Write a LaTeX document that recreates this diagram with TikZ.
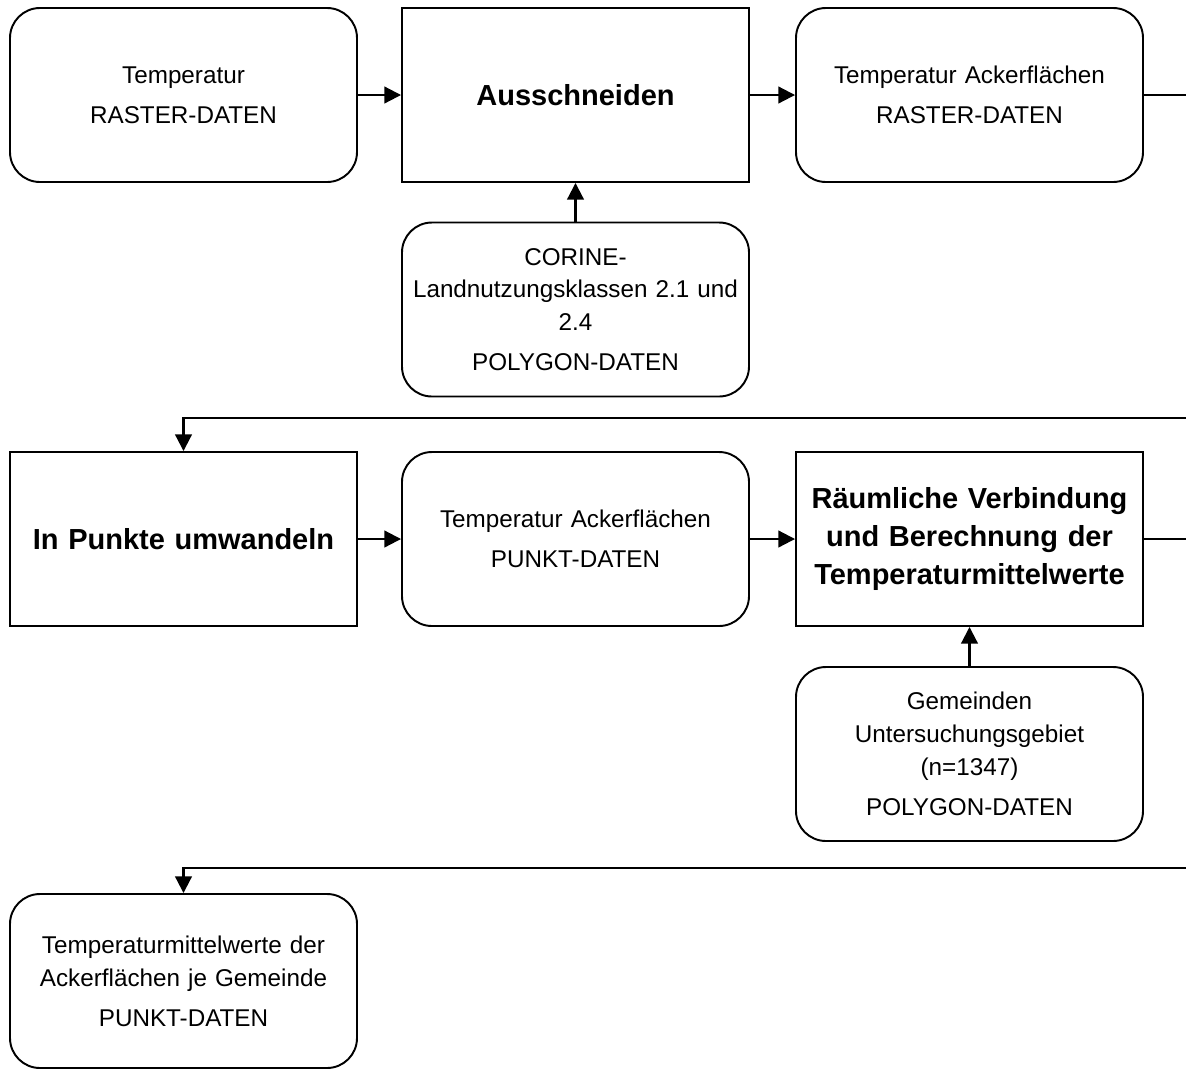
\documentclass[tikz,border=0pt]{standalone}
\usepackage{fontspec}
\setmainfont{Liberation Sans}
\usetikzlibrary{arrows.meta}
\begin{document}
\begin{tikzpicture}[
    box/.style={draw, line width=1.1pt, minimum width=6.94cm, minimum height=3.48cm,
      text width=6.6cm, align=center, inner sep=0pt,
      font=\fontsize{13.8}{18.7}\selectfont},
    data/.style={box, rounded corners=0.6cm},
    tool/.style={box, font=\fontsize{16.5}{21.6}\selectfont\bfseries},
    flow/.style={line width=1.2pt, -{Triangle[length=9.5pt,width=9.5pt]}}
  ]
      \useasboundingbox (0,0) rectangle (23.72,-21.38);
      \clip (0,0) rectangle (23.72,-21.38);
      \draw
        (3.67,-1.90) node[data] (temp){Temperatur\\[4pt]RASTER-DATEN}
        (11.51,-1.90) node[tool] (cut){Ausschneiden}
        (19.39,-1.90) node[data] (tempacker){Temperatur Ackerflächen\\[4pt]RASTER-DATEN}
        (11.51,-6.19) node[data] (corine){CORINE-\\Landnutzungsklassen 2.1 und\\2.4\\[4pt]POLYGON-DATEN}
        (3.67,-10.78) node[tool] (points){In Punkte umwandeln}
        (11.51,-10.78) node[data] (temppunkt){Temperatur Ackerflächen\\[4pt]PUNKT-DATEN}
        (19.39,-10.78) node[tool] (join){Räumliche Verbindung und Berechnung der Temperaturmittelwerte}
        (19.39,-15.08) node[data] (gemeinden){Gemeinden\\Untersuchungsgebiet\\(n=1347)\\[4pt]POLYGON-DATEN}
        (3.67,-19.62) node[data] (result){Temperaturmittelwerte der\\Ackerflächen je Gemeinde\\[4pt]PUNKT-DATEN};
      \coordinate (turn1) at (24.2,-8.36);
      \coordinate (turn2) at (24.2,-17.36);
      \begin{scope}[flow]
        \draw (temp) to (cut);
        \draw (cut) to (tempacker);
        \draw (corine) to (cut);
        \draw (tempacker.east) -| (turn1) -| (points.north);
        \draw (points) to (temppunkt);
        \draw (temppunkt) to (join);
        \draw (gemeinden) to (join);
        \draw (join.east) -| (turn2) -| (result.north);
      \end{scope}
    \end{tikzpicture}
\end{document}
